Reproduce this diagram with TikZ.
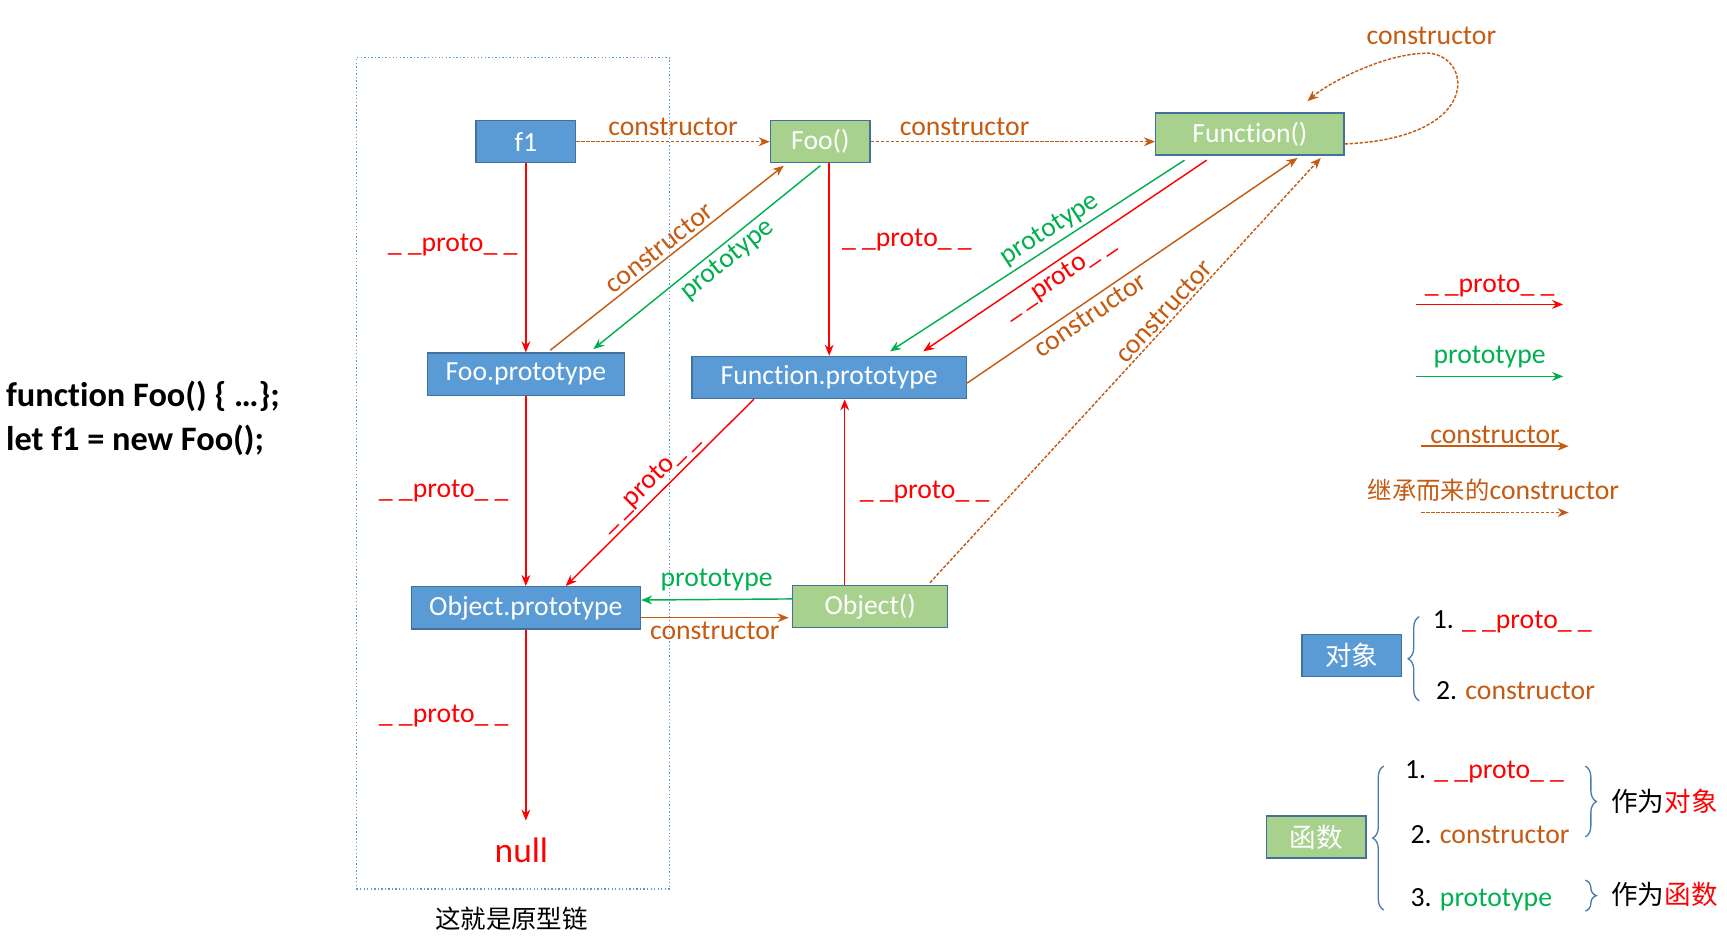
\documentclass[tikz,border=0pt]{standalone}
\usepackage{fontspec}
\setmainfont{Carlito}[Ligatures=NoCommon]
\newfontfamily\cjk{Noto Sans CJK SC}
\usetikzlibrary{arrows.meta,calc,decorations.pathreplacing}
\definecolor{cred}{HTML}{FF0000}
\definecolor{cgreen}{HTML}{00B050}
\definecolor{corange}{HTML}{C55A11}
\definecolor{bfill}{HTML}{5B9BD5}
\definecolor{bdraw}{HTML}{41719C}
\definecolor{gfill}{HTML}{A9D18E}
\begin{document}
\begin{tikzpicture}[x=1pt,y=-1pt,
 lbl/.style={font=\fontsize{25}{28}\selectfont,inner sep=1pt},
 bbox/.style={draw=bdraw,line width=1.3pt,fill=bfill,text=white,minimum height=38pt,font=\fontsize{25}{28}\selectfont,inner sep=0pt},
 gbox/.style={bbox,fill=gfill},
 tip/.style={-{Stealth[length=10pt,width=8pt]}},
 pr/.style={tip,cred,line width=1.3pt},
 pt/.style={tip,cgreen,line width=1.3pt},
 co/.style={tip,corange,line width=1.3pt},
 inh/.style={co,dashed,dash pattern=on 3pt off 1.5pt},
 br/.style={draw=bfill!80!black,line width=1.2pt,decorate,decoration={brace,amplitude=10pt}}]
\useasboundingbox (0,0) rectangle (1560,847);
\node[draw=bfill,dotted,line width=1.2pt,minimum width=283pt,minimum height=751pt,inner sep=0pt] (chain) at (463.5,427.5) {};
\node[lbl,font=\cjk\fontsize{23}{26}\selectfont] (cap) at (462,830) {这就是原型链};
\node[anchor=west,font=\bfseries\fontsize{31}{34}\selectfont] (code1) at (2,358) {function Foo() \{ …\};};
\node[anchor=west,font=\bfseries\fontsize{31}{34}\selectfont] (code2) at (2,398) {let f1 = new Foo();};

\node[bbox,minimum width=90pt] (f1) at (475,128) {f1};
\node[gbox,minimum width=90pt] (foo) at (741,128) {Foo()};
\node[gbox,minimum width=170pt] (fn) at (1129,121) {Function()};
\node[bbox,minimum width=178pt] (foop) at (475,338) {Foo.prototype};
\node[bbox,minimum width=248pt] (fnp) at (749,341) {Function.prototype};
\node[bbox,minimum width=207pt] (objp) at (475,549) {Object.prototype};
\node[gbox,minimum width=140pt] (obj) at (786,548) {Object()};
\node[text=cred,font=\fontsize{32}{34}\selectfont] (null) at (471,768) {null};

% constructors dashed
\draw[inh] (f1.east) -- (foo.west) node[lbl,midway,above=4pt,text=corange] {constructor};
\draw[inh] (foo.east) -- (fn.west|-foo.east) node[lbl,pos=0.33,above=4pt,text=corange] {constructor};
\draw[inh] ($(fn.east)+(0,9)$) .. controls (1340,125) and (1330,50) .. (1290,48) .. controls (1250,48) and (1200,75) .. ($(fn.north)+(52,-10)$);
\node[lbl,text=corange] (selfl) at (1293,32) {constructor};
\draw[inh] ($(obj.north)+(54,-2)$) -- ($(fn.south)+(64,2)$) node[lbl,pos=0.62,above=1pt,sloped,text=corange] {constructor};

% proto chain
\draw[pr] (f1) -- (foop) node[lbl,pos=0.43,left=6pt,text=cred] {\_ \_proto\_ \_};
\draw[pr] (foop) -- (objp) node[lbl,midway,left=14pt,text=cred] {\_ \_proto\_ \_};
\draw[pr] (objp) -- ($(null.north)+(4,-12)$) node[lbl,pos=0.45,left=14pt,text=cred] {\_ \_proto\_ \_};
\draw[pr] ($(foo.south)+(8,0)$) -- ($(fnp.north)+(0,0)$) node[lbl,pos=0.4,right=10pt,text=cred] {\_ \_proto\_ \_};
\draw[pr] ($(fnp.south)+(-68,0)$) -- ($(objp.north)+(36,0)$) node[lbl,midway,above=2pt,sloped,text=cred] {\_ \_proto\_ \_};
\draw[pr] ($(obj.north)+(-23,0)$) -- ($(fnp.south)+(14,0)$) node[lbl,pos=0.5,right=12pt,text=cred] {\_ \_proto\_ \_};
\draw[pr] ($(fn.south)+(-39,4)$) -- ($(fnp.north)+(85,-4)$) node[lbl,pos=0.55,below=2pt,sloped,text=cred] {\_ \_proto\_ \_};

% prototype
\draw[pt] ($(foo.south)+(0,2)$) -- ($(foop.north)+(61,-3)$) node[lbl,pos=0.45,below=2pt,sloped,text=cgreen] {prototype};
\draw[pt] ($(fn.south)+(-59,4)$) -- ($(fnp.north)+(55,-4)$) node[lbl,pos=0.43,above=2pt,sloped,text=cgreen] {prototype};
\draw[pt] ($(obj.west)+(0,-7)$) -- ($(objp.east)+(0,-7)$) node[lbl,midway,above=6pt,text=cgreen] {prototype};

% constructor solid
\draw[co] ($(foop.north)+(22,-2)$) -- ($(foo.south)+(-33,2)$) node[lbl,pos=0.5,above=2pt,sloped,text=corange] {constructor};
\draw[co] ($(fnp.east)+(0,5)$) -- ($(fn.south)+(43,2)$) node[lbl,pos=0.35,below=2pt,sloped,text=corange] {constructor};
\draw[co] ($(objp.east)+(0,9)$) -- ($(obj.west)+(-3,10)$) node[lbl,midway,below=2pt,text=corange] {constructor};

% legend
\coordinate (l1a) at (1279,275); \coordinate (l1b) at (1412,275);
\draw[pr] (l1a) -- (l1b) node[lbl,midway,above=5pt,text=cred] {\_ \_proto\_ \_};
\coordinate (l2a) at (1279,340); \coordinate (l2b) at (1412,340);
\draw[pt] (l2a) -- (l2b) node[lbl,midway,above=6pt,text=cgreen] {prototype};
\coordinate (l3a) at (1284,403); \coordinate (l3b) at (1417,403);
\draw[co] (l3a) -- (l3b) node[lbl,midway,above=1pt,text=corange] {constructor};
\coordinate (l4a) at (1284,463); \coordinate (l4b) at (1417,463);
\draw[inh] (l4a) -- (l4b);
\node[lbl,text=corange] (l4t) at (1349,443) {{\cjk\fontsize{22}{26}\selectfont 继承而来的}constructor};

% object / function explanation
\node[bbox,minimum width=90pt,font=\cjk\fontsize{24}{28}\selectfont] (dx) at (1221,592) {对象};
\draw[br] (1282,633) -- (1282,557);
\node[lbl,anchor=west] (o1) at (1293,562) {1. \textcolor{cred}{\_ \_proto\_ \_}};
\node[lbl,anchor=west] (o2) at (1296,624) {2. \textcolor{corange}{constructor}};

\node[gbox,minimum width=90pt,font=\cjk\fontsize{24}{28}\selectfont] (hs) at (1189,756) {函数};
\draw[br] (1250,822) -- (1250,692);
\node[lbl,anchor=west] (f1i) at (1268,697) {1. \textcolor{cred}{\_ \_proto\_ \_}};
\node[lbl,anchor=west] (f2i) at (1273,754) {2. \textcolor{corange}{constructor}};
\node[lbl,anchor=west] (f3i) at (1273,813) {3. \textcolor{cgreen}{prototype}};
\draw[br] (1432,692) -- (1432,756);
\draw[br] (1432,795) -- (1432,823);
\node[anchor=west,font=\cjk\fontsize{24}{28}\selectfont] (zw1) at (1452,724) {作为\textcolor{cred}{对象}};
\node[anchor=west,font=\cjk\fontsize{24}{28}\selectfont] (zw2) at (1452,808) {作为\textcolor{cred}{函数}};
\end{tikzpicture}
\end{document}
